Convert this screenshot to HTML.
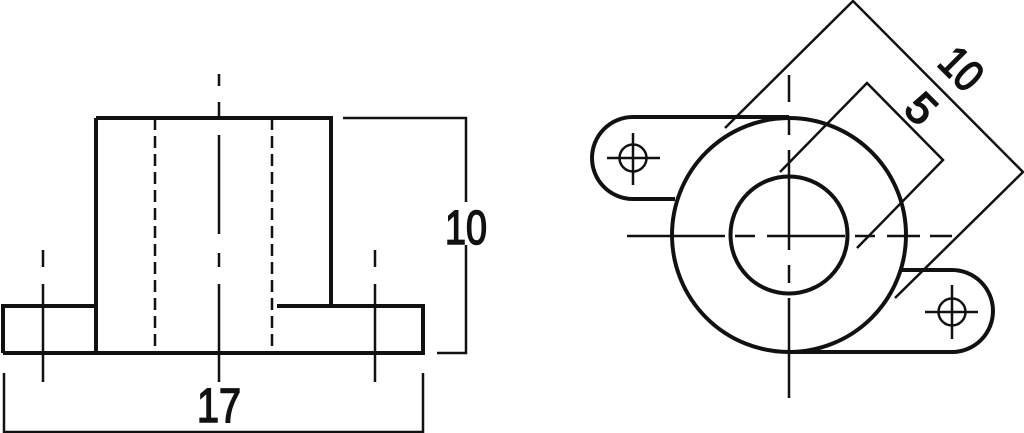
<!DOCTYPE html>
<html><head><style>html,body{margin:0;padding:0;background:#fff}svg{display:block}</style></head>
<body>
<svg width="1024" height="433" viewBox="0 0 1024 433" xmlns="http://www.w3.org/2000/svg">
<g fill="none" stroke="#111" stroke-linecap="butt">
<!-- Left view -->
<g stroke-width="4">
<path d="M96 118 H331 V306 M96 118 V353"/>
<path d="M3 353 V306 H96 M277 306 H423 V353 H3"/>
</g>
<g stroke-width="2.5" stroke-dasharray="12 6">
<line x1="155" y1="118" x2="155" y2="350"/>
<line x1="272" y1="118" x2="272" y2="350"/>
</g>
<g stroke-width="2.5">
<path d="M219 74 V86 M219 102 V118 M219 135 V234 M219 253 V267 M219 284 V382"/>
<path d="M43 250 V267 M43 284 V382 M375 250 V267 M375 284 V382"/>
<path d="M343 118 H466 V202 M466 245 V353 H437"/>
<path d="M4 373 V432 H423 V373"/>
</g>
<!-- Right view -->
<g stroke-width="4">
<circle cx="789" cy="235" r="117"/>
<circle cx="789" cy="235" r="58.5"/>
<path d="M789 117 H633 A41 41 0 0 0 633 199 H675"/>
<path d="M902 270 H952 A41 41 0 0 1 952 352 H789"/>
</g>
<g stroke-width="2.5">
<circle cx="633" cy="158" r="13.5"/>
<path d="M607 158 H660 M633 133 V185"/>
<circle cx="952" cy="312" r="13.5"/>
<path d="M925 312 H978 M952 285 V339"/>
<path d="M789 75 V102 M789 117 V135 M789 150 V250 M789 265 V283 M789 298 V398"/>
<path d="M627 236 H725 M735 236 H755 M767 236 H845 M855 236 H875 M887 236 H920 M930 236 H952"/>
<path d="M725 128 L853 1 L1023 172 L895 298"/>
<path d="M780 172 L867 83 L943 160 L857 248"/>
</g>
</g>
<g font-family="Liberation Sans, sans-serif" fill="#111" stroke="#111" stroke-width="1.6" font-size="48" text-anchor="middle">
<text x="466" y="244" textLength="42" lengthAdjust="spacingAndGlyphs">10</text>
<text x="219" y="422" textLength="44" lengthAdjust="spacingAndGlyphs">17</text>
<text transform="translate(962,68) rotate(45)" y="16" font-size="44" textLength="42" lengthAdjust="spacingAndGlyphs">10</text>
<text transform="translate(922,108) rotate(45)" y="16" font-size="44">5</text>
</g>
</svg>
</body></html>
